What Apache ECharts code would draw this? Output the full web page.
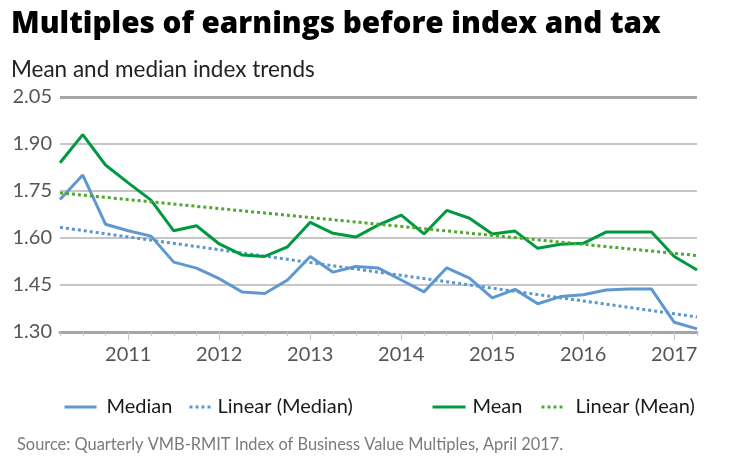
<!DOCTYPE html>
<html><head><meta charset="utf-8">
<script src="https://cdn.jsdelivr.net/npm/echarts@6/dist/echarts.min.js"></script>
<style>html,body{margin:0;padding:0;background:#fff}#c{width:729px;height:467px}</style>
</head><body><div id="c"></div>
<script>
// Quarterly categories
const quarters = ['2010Q2','2010Q3','2010Q4',
  '2011Q1','2011Q2','2011Q3','2011Q4',
  '2012Q1','2012Q2','2012Q3','2012Q4',
  '2013Q1','2013Q2','2013Q3','2013Q4',
  '2014Q1','2014Q2','2014Q3','2014Q4',
  '2015Q1','2015Q2','2015Q3','2015Q4',
  '2016Q1','2016Q2','2016Q3','2016Q4',
  '2017Q1','2017Q2'];
const median = [1.723,1.801,1.644,1.623,1.606,1.523,1.504,1.470,1.428,1.423,1.466,1.541,1.491,1.509,
  1.504,1.466,1.428,1.505,1.472,1.409,1.436,1.390,1.413,1.419,1.434,1.437,1.437,1.331,1.310];
const mean = [1.840,1.930,1.833,1.776,1.721,1.623,1.639,1.581,1.546,1.541,1.572,1.650,1.615,1.603,
  1.642,1.673,1.613,1.688,1.663,1.613,1.622,1.567,1.580,1.583,1.619,1.619,1.619,1.541,1.498];
// Linear trend endpoints (first and last quarter)
const medianTrend = [1.634, 1.348];
const meanTrend = [1.744, 1.544];
const yTicks = [1.30, 1.45, 1.60, 1.75, 1.90, 2.05];

const FONT = 'Lato';
const BLUE = '#5f97d0', GREEN = '#009a3e', BLUE_D = '#5a96d2', GREEN_D = '#4ea72e';
const chart = echarts.init(document.getElementById('c'));
const trendData = (arr) => [[quarters[0], arr[0]], [quarters[quarters.length - 1], arr[1]]];
function legend(name, left, w, type, color, pad) {
  return {
    data: [name], left: left, top: 397, padding: 0, itemWidth: w, itemHeight: 14,
    lineStyle: { width: 3, type: type, color: color },
    itemStyle: { opacity: 0 },
    textStyle: { fontFamily: FONT, fontSize: 20, color: '#1a1a1a', padding: [0, 0, 0, pad] }
  };
}
chart.setOption({
  animation: false,
  backgroundColor: '#fff',
  title: [
    { text: 'Multiples of earnings before index and tax', left: 11, top: 10, padding: 0,
      textStyle: { fontFamily: 'Open Sans', fontWeight: 800, fontSize: 29.7, color: '#000' } },
    { text: 'Mean and median index trends', left: 11, top: 58, padding: 0,
      textStyle: { fontFamily: FONT, fontWeight: 'normal', fontSize: 22.5, color: '#222' } },
    { text: 'Source: Quarterly VMB-RMIT Index of Business Value Multiples, April 2017.', left: 17, top: 437, padding: 0,
      textStyle: { fontFamily: FONT, fontWeight: 'normal', fontSize: 16.4, color: '#7a7a7a' } }
  ],
  legend: [
    legend('Median', 63, 32, 'solid', BLUE, 5),
    legend('Linear (Median)', 188, 23, 'dotted', BLUE_D, 0),
    legend('Mean', 431, 33, 'solid', GREEN, 2),
    legend('Linear (Mean)', 540, 23, 'dotted', GREEN_D, 6)
  ],
  grid: { left: 60, right: 32, top: 97, bottom: 135 },
  xAxis: [
    { type: 'category', data: quarters, boundaryGap: false,
      axisLine: { lineStyle: { color: '#a6a6a6', width: 3 } },
      axisTick: { show: true, interval: 0, length: 4, lineStyle: { color: '#c4c4c4', width: 1 } },
      axisLabel: { interval: (i, v) => v.endsWith('Q1'), formatter: v => v.slice(0, 4),
        fontFamily: FONT, fontSize: 20, color: '#555', margin: 13 } },
    { type: 'category', data: quarters, boundaryGap: false, position: 'bottom',
      axisLine: { show: false },
      axisTick: { show: true, interval: (i, v) => v.endsWith('Q1'), length: 8, lineStyle: { color: '#c4c4c4', width: 1 } },
      axisLabel: { show: false } }
  ],
  yAxis: {
    type: 'value', min: yTicks[0], max: yTicks[yTicks.length - 1], interval: 0.15,
    axisLine: { show: false }, axisTick: { show: false },
    axisLabel: { formatter: v => v.toFixed(2), fontFamily: FONT, fontSize: 20, color: '#555', margin: 8 },
    splitLine: { lineStyle: { color: '#b3b3b3', width: 1.5 } }
  },
  series: [
    { name: 'Median', type: 'line', data: median, symbol: 'none', lineStyle: { color: BLUE, width: 3 }, itemStyle: { color: BLUE },
      markLine: { silent: true, symbol: 'none', label: { show: false },
        lineStyle: { color: '#a6a6a6', width: 3, type: 'solid' }, data: [{ yAxis: yTicks[yTicks.length - 1] }] } },
    { name: 'Linear (Median)', type: 'line', data: trendData(medianTrend), symbol: 'none',
      lineStyle: { color: BLUE_D, width: 3, type: 'dotted' }, itemStyle: { color: BLUE_D } },
    { name: 'Mean', type: 'line', data: mean, symbol: 'none', lineStyle: { color: GREEN, width: 3 }, itemStyle: { color: GREEN } },
    { name: 'Linear (Mean)', type: 'line', data: trendData(meanTrend), symbol: 'none',
      lineStyle: { color: GREEN_D, width: 3, type: 'dotted' }, itemStyle: { color: GREEN_D } }
  ]
});
</script></body></html>
